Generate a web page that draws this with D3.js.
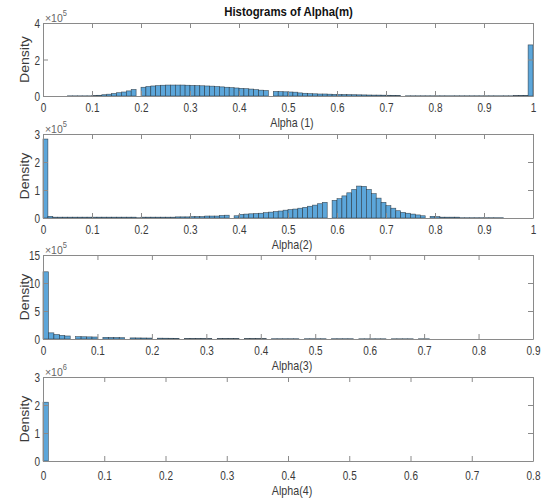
<!DOCTYPE html>
<html>
<head>
<meta charset="utf-8">
<script src="https://cdn.jsdelivr.net/npm/d3@7"></script>
<style>
  body { margin: 0; background: #fff; }
  svg { display: block; }
  text { font-family: "Liberation Sans", Arial, sans-serif; }
</style>
</head>
<body>
<svg id="chart" width="547" height="499"></svg>
<script>
// histogram heights, in units of 10^exponent, one value per bin starting at 0
var alpha1 = [0, 0, 0, 0, 0, 0.01, 0.01, 0.01, 0.01, 0.01,
  0.02, 0.04, 0.07, 0.1, 0.14, 0.18, 0.22, 0.28, 0.36, 0,
  0.48, 0.52, 0.55, 0.57, 0.59, 0.6, 0.6, 0.6, 0.6, 0.59,
  0.58, 0.57, 0.56, 0.55, 0.54, 0.52, 0.5, 0.48, 0.46, 0.44,
  0.42, 0.4, 0.38, 0.35, 0.32, 0.3, 0, 0.25, 0.24, 0.23,
  0.22, 0.21, 0.17, 0.15, 0.13, 0.12, 0.11, 0.11, 0.1, 0.09,
  0.085, 0.08, 0.075, 0.07, 0.065, 0.06, 0.055, 0.05, 0.05, 0.045,
  0.04, 0.035, 0.03, 0, 0.012, 0.012, 0.012, 0.012, 0.012, 0.012,
  0.012, 0.012, 0.012, 0.012, 0.012, 0.012, 0.012, 0.012, 0.012, 0.012,
  0.012, 0.012, 0.012, 0.012, 0.012, 0.012, 0.02, 0.03, 0.035, 2.8];

var alpha2 = [2.82, 0.06, 0.03, 0.03, 0.03, 0.03, 0.03, 0.03, 0.03, 0.03,
  0.03, 0.03, 0.03, 0.03, 0.03, 0.03, 0.03, 0.03, 0.03, 0.01,
  0.03, 0.03, 0.03, 0.03, 0.03, 0.03, 0.03, 0.04, 0.04, 0.04,
  0.05, 0.05, 0.05, 0.07, 0.07, 0.07, 0.09, 0.1, 0, 0.08,
  0.13, 0.14, 0.15, 0.16, 0.17, 0.19, 0.21, 0.23, 0.25, 0.28,
  0.3, 0.32, 0.35, 0.38, 0.42, 0.46, 0.51, 0.56, 0, 0.63,
  0.69, 0.79, 0.9, 1.02, 1.14, 1.13, 1.02, 0.87, 0.71, 0.56,
  0.44, 0.35, 0.26, 0.2, 0.17, 0.14, 0.11, 0.08, 0, 0.06,
  0.05, 0.03, 0.03, 0.03, 0.03, 0.01, 0.01, 0.01, 0.01, 0.01,
  0.01, 0.01, 0.01, 0.01, 0, 0, 0, 0, 0, 0];

var alpha3 = [12.0, 1.1, 0.8, 0.65, 0.54, 0, 0.42, 0.4, 0.38, 0.36,
  0, 0.3, 0.28, 0.26, 0.24, 0, 0.2, 0.19, 0.18, 0.17,
  0, 0.15, 0.14, 0.13, 0.12, 0, 0.08, 0.08, 0.08, 0.08,
  0.08, 0, 0.07, 0.07, 0.07, 0.07, 0, 0.06, 0.06, 0.06,
  0.06, 0, 0.05, 0.05, 0.05, 0.05, 0.05, 0, 0.05, 0.05,
  0.05, 0.05, 0, 0.05, 0.05, 0.05, 0.05, 0, 0.04, 0.04,
  0.04, 0.04, 0.04, 0, 0.04, 0.04, 0.04, 0.04, 0, 0.04,
  0.04];

var alpha4 = [2.1];

var series = [alpha1, alpha2, alpha3, alpha4];
var binWidth = [0.01, 0.01, 0.01, 0.0087];
var xMax = [1, 1, 0.9, 0.8];
var yMax = [4, 3, 15, 3];
var yTicks = [[0, 2, 4], [0, 1, 2, 3], [0, 5, 10, 15], [0, 1, 2, 3]];
var exponents = ["5", "5", "5", "6"];
var xLabels = ["Alpha (1)", "Alpha(2)", "Alpha(3)", "Alpha(4)"];
var titleText = "Histograms of Alpha(m)";

// layout of the four stacked axes
var left = 43, right = 533;
var panels = [
  {top: 23, bottom: 96, tickOff: 16, labelOff: 31},
  {top: 134, bottom: 218, tickOff: 16, labelOff: 31},
  {top: 255, bottom: 339, tickOff: 15.5, labelOff: 31},
  {top: 377, bottom: 461, tickOff: 18.5, labelOff: 34}
];

var axisColor = "#8a8a8a", textColor = "#3a3a3a";
var barFill = "#5ca6da", barEdge = "#1f2a33";
var stretch = 1.3;   // the source text is drawn taller than wide
var fmt = d3.format("~g");

var svg = d3.select("#chart");

svg.append("text")
  .attr("transform", "translate(288.5,15.7) scale(1,1.15)")
  .attr("text-anchor", "middle")
  .attr("font-size", 11.4)
  .attr("font-weight", "bold")
  .attr("fill", "#111")
  .text(titleText);

function styleAxis(g) {
  g.select(".domain").attr("stroke", axisColor);
  g.selectAll(".tick line").attr("stroke", axisColor);
  g.selectAll(".tick text").attr("fill", textColor);
}

series.forEach(function(vals, k) {
  var p = panels[k];
  var x = d3.scaleLinear().domain([0, xMax[k]]).range([left, right]);
  var y = d3.scaleLinear().domain([0, yMax[k]]).range([p.bottom, p.top]);
  var bw = binWidth[k];
  var g = svg.append("g");

  // bars
  var bins = vals.map(function(v, i) { return {x0: i * bw, x1: (i + 1) * bw, v: v}; })
    .filter(function(d) { return d.v > 0; });
  g.selectAll("rect.bar").data(bins).enter().append("rect")
    .attr("class", "bar")
    .attr("x", function(d) { return x(d.x0); })
    .attr("width", function(d) { return x(d.x1) - x(d.x0); })
    .attr("y", function(d) { return y(d.v); })
    .attr("height", function(d) { return y(0) - y(d.v); })
    .attr("fill", barFill)
    .attr("stroke", barEdge)
    .attr("stroke-width", 0.6)
    .attr("stroke-opacity", 0.8);

  var xt = d3.range(0, Math.round(xMax[k] * 10) + 1).map(function(i) { return i / 10; });

  // bottom axis with labels
  var gb = g.append("g").attr("transform", "translate(0," + p.bottom + ")")
    .call(d3.axisBottom(x).tickValues(xt).tickSizeInner(-5).tickSizeOuter(0).tickFormat(fmt));
  styleAxis(gb);
  gb.selectAll(".tick text")
    .attr("y", null).attr("dy", null)
    .attr("font-size", 10)
    .attr("transform", "translate(0," + p.tickOff + ") scale(1," + stretch + ")");

  // top axis, ticks only
  var gt = g.append("g").attr("transform", "translate(0," + p.top + ")")
    .call(d3.axisTop(x).tickValues(xt).tickSizeInner(-5).tickSizeOuter(0).tickFormat(""));
  styleAxis(gt);

  // left axis with labels
  var gl = g.append("g").attr("transform", "translate(" + left + ",0)")
    .call(d3.axisLeft(y).tickValues(yTicks[k]).tickSizeInner(-5).tickSizeOuter(0).tickFormat(fmt));
  styleAxis(gl);
  gl.selectAll(".tick text")
    .attr("x", null).attr("dy", null)
    .attr("font-size", 10)
    .attr("text-anchor", "end")
    .attr("transform", "translate(-3,4.6) scale(1," + stretch + ")");

  // right axis, ticks only
  var gr = g.append("g").attr("transform", "translate(" + right + ",0)")
    .call(d3.axisRight(y).tickValues(yTicks[k]).tickSizeInner(-5).tickSizeOuter(0).tickFormat(""));
  styleAxis(gr);

  // exponent label
  var ex = g.append("text")
    .attr("transform", "translate(45," + (p.top - 1.5) + ") scale(1,1.1)")
    .attr("font-size", 10.5)
    .attr("fill", "#666");
  ex.append("tspan").text("\u00d710");
  ex.append("tspan").attr("font-size", 7.5).attr("dy", -5).text(exponents[k]);

  // axis titles
  g.append("text")
    .attr("transform", "translate(292," + (p.bottom + p.labelOff) + ") scale(1,1.2)")
    .attr("text-anchor", "middle")
    .attr("font-size", 10.7)
    .attr("fill", textColor)
    .text(xLabels[k]);

  g.append("text")
    .attr("transform", "translate(29,"+ ((p.top + p.bottom) / 2) + ") rotate(-90) scale(1.17,1)")
    .attr("text-anchor", "middle")
    .attr("font-size", 12)
    .attr("fill", textColor)
    .text("Density");
});
</script>
</body>
</html>
